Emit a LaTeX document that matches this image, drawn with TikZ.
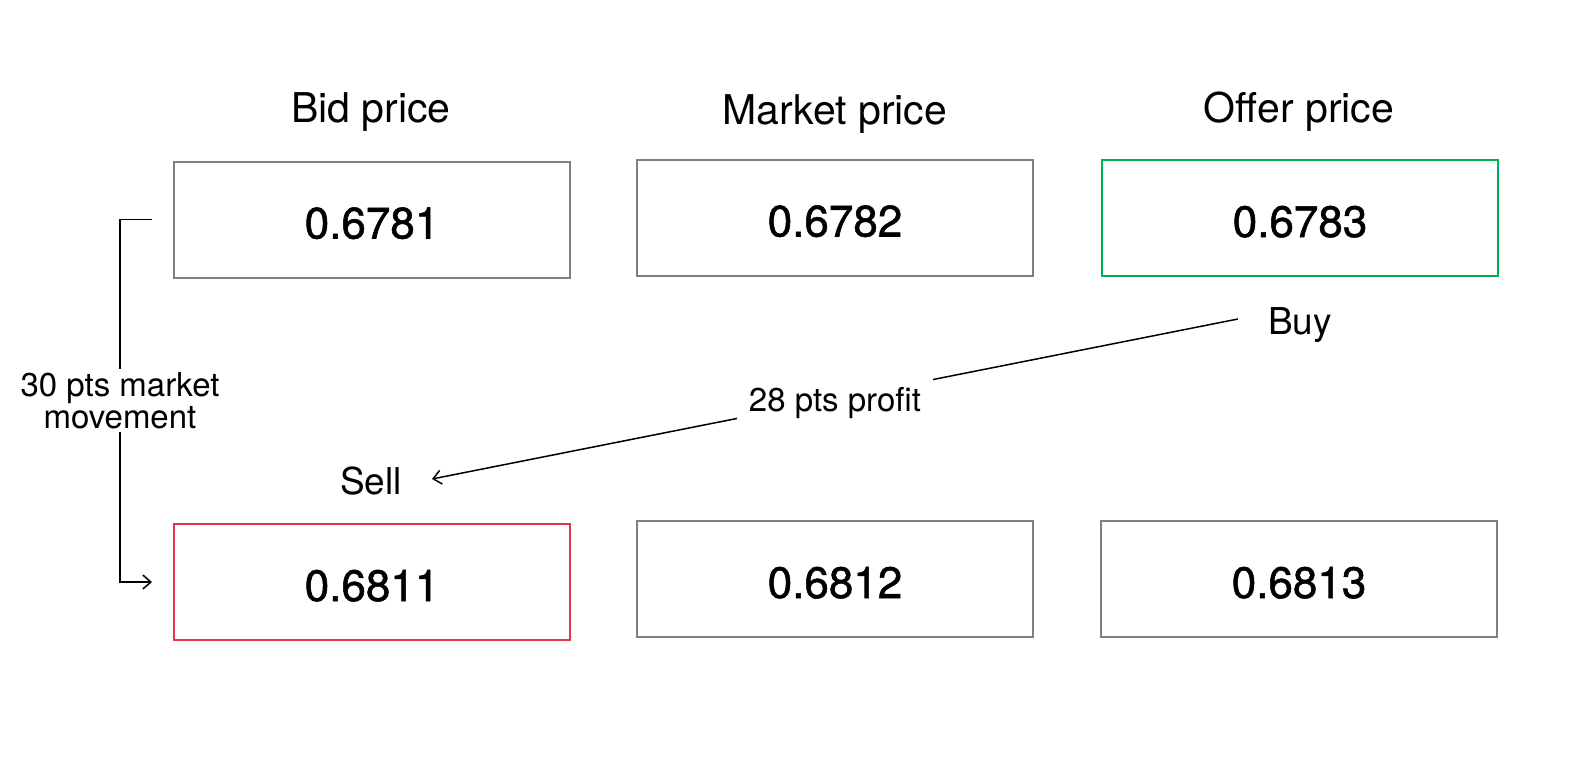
\documentclass[tikz,border=0pt]{standalone}
\usepackage{fontspec}
\setmainfont{TeX Gyre Heros}
\newfontfamily\numfont[FakeBold=1.2]{TeX Gyre Heros}
\usetikzlibrary{arrows.meta}
\definecolor{boxgray}{RGB}{128,128,128}
\definecolor{buygreen}{RGB}{0,176,80}
\definecolor{sellred}{RGB}{232,52,72}
\tikzset{
  pricebox/.style={draw=boxgray, line width=2pt, minimum width=396pt, minimum height=116pt, inner sep=0pt,
    font=\numfont\fontsize{44}{52}\selectfont, text height=38pt, text depth=0pt},
  header/.style={font=\fontsize{41}{48}\selectfont, inner sep=0pt},
  action/.style={font=\fontsize{37}{44}\selectfont, inner xsep=30pt, inner ysep=0pt},
  lbl/.style={font=\fontsize{33}{32}\selectfont, fill=white, align=center},
  conn/.style={line width=1.5pt, -{Straight Barb[length=8pt,width=14pt,line width=1.5pt]}},
}
\begin{document}
\begin{tikzpicture}[x=1pt,y=-1pt]
\useasboundingbox (0,0) rectangle (1584,768);
% headers
\node[header] (h1) at (371,112) {Bid price};
\node[header] (h2) at (835,114) {Market price};
\node[header] (h3) at (1299,112) {Offer price};
% top row
\node[pricebox] (b1) at (372,219.5) {0.6781};
\node[pricebox] (b2) at (835,217.5) {0.6782};
\node[pricebox, draw=buygreen] (b3) at (1300,218) {0.6783};
% bottom row
\node[pricebox, draw=sellred] (b4) at (372,582) {0.6811};
\node[pricebox] (b5) at (835,579) {0.6812};
\node[pricebox] (b6) at (1299,579) {0.6813};
% buy / sell
\node[action] (buy) at (1300,325) {Buy};
\node[action] (sell) at (371,481) {Sell};
\draw[conn] ([yshift=6pt]buy.west) -- node[lbl, inner xsep=12pt, inner ysep=2pt, text height=31pt, text depth=7pt] (profit) {28 pts profit} ([yshift=2pt]sell.east);
% market movement bracket
\coordinate (t1) at ([xshift=-21pt]b1.west);
\coordinate (t4) at ([xshift=-21pt]b4.west);
\draw[conn] (t1) -- ++(-32,0) |- node[lbl, pos=0.25, inner sep=3pt] (move) {30 pts market\\movement} (t4);
\end{tikzpicture}
\end{document}
